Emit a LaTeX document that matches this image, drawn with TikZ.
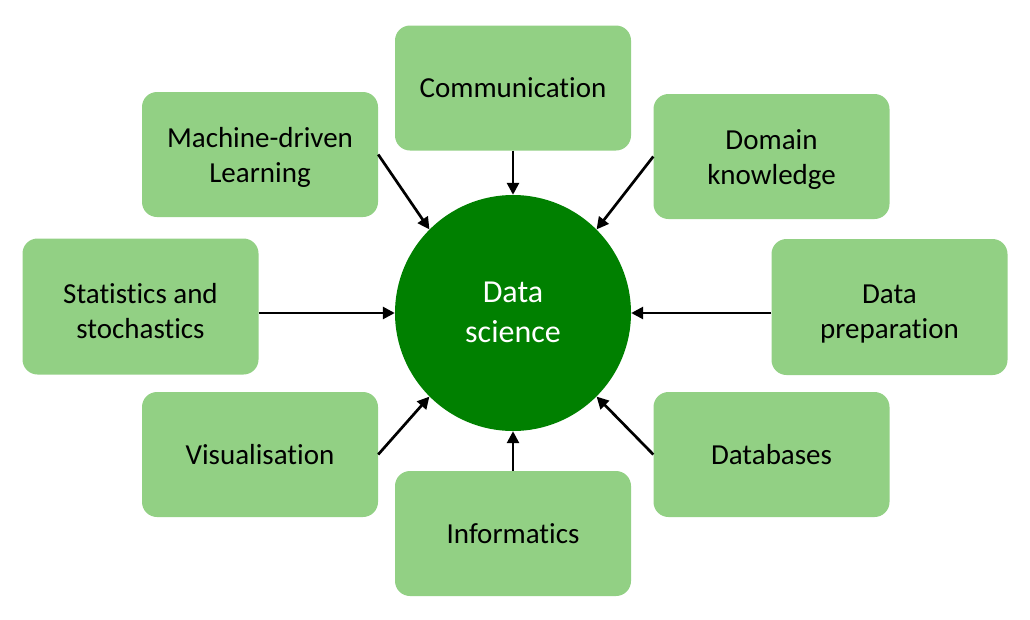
\documentclass[tikz,border=0pt]{standalone}
\usepackage{fontspec}
\setmainfont{Carlito}[Ligatures={NoCommon,NoContextual}, RawFeature={-liga;-clig}]
\usetikzlibrary{arrows.meta}
\definecolor{boxgreen}{RGB}{146,208,132}
\definecolor{darkgreen}{RGB}{0,128,0}
\newcommand{\twoline}[3]{\raisebox{-#3}[\height][\depth]{\begin{tabular}{@{}c@{}}#1\\#2\end{tabular}}}
\tikzset{
  topic/.style={draw=none, fill=boxgreen, rounded corners=15pt, minimum width=236pt, minimum height=125pt, inner sep=0pt, font=\fontsize{29}{35}\selectfont, text=black},
  tallbox/.style={topic, minimum height=136pt},
  hub/.style={circle, fill=darkgreen, draw=none, minimum size=236pt, inner sep=0pt, text=white, font=\fontsize{32}{40}\selectfont},
  link/.style={line width=2.7pt, -{Triangle[length=12pt,width=12pt]}}
}
\begin{document}
\begin{tikzpicture}[x=1pt,y=-1pt]
\useasboundingbox (0,0) rectangle (1030,619);
\node[hub] (c) at (513,313) {\twoline{Data}{science}{1pt}};
\node[topic] (comm) at (513,88) {Communication};
\node[topic] (mach) at (260,154.5) {\twoline{Machine-driven}{Learning}{3pt}};
\node[topic] (dom) at (771.5,156.5) {\twoline{Domain}{knowledge}{3pt}};
\node[tallbox] (stat) at (140.5,306.5) {\twoline{Statistics and}{stochastics}{7pt}};
\node[tallbox] (prep) at (889.5,307) {\twoline{Data}{preparation}{7pt}};
\node[topic] (vis) at (260,454.5) {Visualisation};
\node[topic] (db) at (771.5,454.5) {Databases};
\node[topic] (inf) at (513,533.5) {Informatics};
\draw[link] (comm.south) -- (c.north);
\draw[link] (inf.north) -- (c.south);
\draw[link] (mach.east) -- (c.135);
\draw[link] (dom.west) -- (c.45);
\draw[link] (vis.east) -- (c.225);
\draw[link] (db.west) -- (c.315);
\draw[link] (stat.east |- c.west) -- (c.west);
\draw[link] (prep.west |- c.east) -- (c.east);
\end{tikzpicture}
\end{document}
